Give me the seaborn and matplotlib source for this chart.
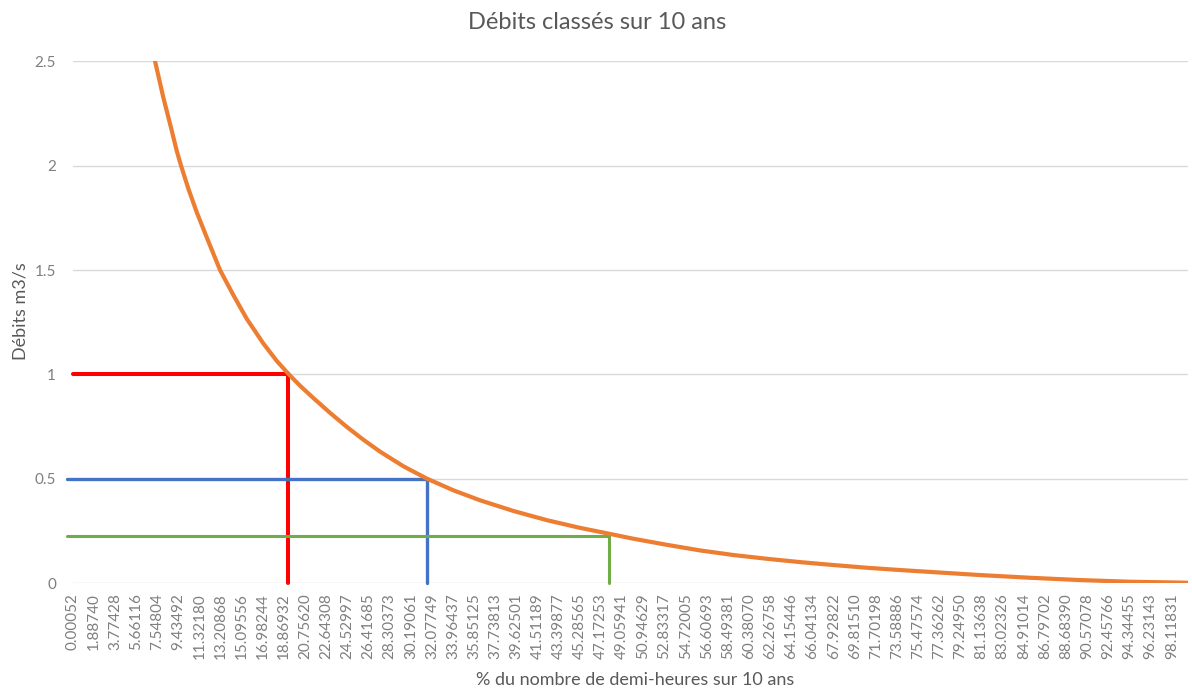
import matplotlib
matplotlib.use("Agg")
import matplotlib.pyplot as plt
import pandas as pd
import seaborn as sns

# courbe des débits classés
pct_temps = [0.0, 2.0, 4.0, 6.0, 7.35, 8.09, 8.69, 9.29, 9.67, 10.32, 11.07,
             11.96, 13.15, 14.34, 15.54, 17.02, 18.21, 19.30, 20.29, 21.48,
             22.97, 24.46, 25.95, 27.44, 29.52, 31.61, 33.98, 36.37, 39.34,
             42.32, 45.29, 47.97, 50.05, 53.03, 56.0, 58.98, 61.96, 64.94,
             67.91, 70.89, 73.87, 76.54, 81.0, 85.47, 89.93, 94.4, 98.86, 99.6]
debits = [6.0, 4.4, 3.4, 2.85, 2.5, 2.326, 2.20, 2.07, 2.0, 1.89, 1.777,
          1.657, 1.5, 1.38, 1.266, 1.148, 1.065, 1.0, 0.946, 0.887,
          0.816, 0.749, 0.687, 0.630, 0.560, 0.501, 0.445, 0.397, 0.346,
          0.302, 0.265, 0.236, 0.213, 0.184, 0.157, 0.135, 0.117, 0.101,
          0.087, 0.074, 0.063, 0.054, 0.039, 0.026, 0.015, 0.007, 0.003, 0.002]

# seuils de lecture
seuil_debits = [1.0, 0.5, 0.225]
seuil_pct = [19.22, 31.61, 47.9]
seuil_debut = [0.0, -0.5, -0.5]
seuil_couleurs = ["#FF0000", "#4472C4", "#70AD47"]
seuil_largeurs = [2.9, 2.4, 2.2]

x_labels = ["0.00052", "1.88740", "3.77428", "5.66116", "7.54804", "9.43492",
            "11.32180", "13.20868", "15.09556", "16.98244", "18.86932",
            "20.75620", "22.64308", "24.52997", "26.41685", "28.30373",
            "30.19061", "32.07749", "33.96437", "35.85125", "37.73813",
            "39.62501", "41.51189", "43.39877", "45.28565", "47.17253",
            "49.05941", "50.94629", "52.83317", "54.72005", "56.60693",
            "58.49381", "60.38070", "62.26758", "64.15446", "66.04134",
            "67.92822", "69.81510", "71.70198", "73.58886", "75.47574",
            "77.36262", "79.24950", "81.13638", "83.02326", "84.91014",
            "86.79702", "88.68390", "90.57078", "92.45766", "94.34455",
            "96.23143", "98.11831"]
y_ticks = [0, 0.5, 1, 1.5, 2, 2.5]
y_labels = ["0", "0.5", "1", "1.5", "2", "2.5"]

TEXTE = "#595959"
TICKS = "#7F7F7F"

sns.set_theme(style="white")
plt.rcParams["font.family"] = ["Lato", "DejaVu Sans"]

df = pd.DataFrame({"pct": pct_temps, "debit": debits})

fig = plt.figure(figsize=(11.92, 6.91), dpi=100)
ax = fig.add_axes([0.061, 0.156, 0.936, 0.7554])

for deb, pct, x0, col, lw in zip(seuil_debits, seuil_pct, seuil_debut,
                                 seuil_couleurs, seuil_largeurs):
    ax.plot([x0, pct, pct], [deb, deb, 0], color=col, lw=lw,
            solid_joinstyle="miter", clip_on=False, zorder=3)

sns.lineplot(data=df, x="pct", y="debit", color="#ED7D31", linewidth=3.0,
             ax=ax, zorder=4)

ax.set_xlim(0, 99.6)
ax.set_ylim(0, 2.5)
ax.set_yticks(y_ticks)
ax.set_yticklabels(y_labels)
ax.set_xticks([float(v) for v in x_labels])
ax.set_xticklabels(x_labels, rotation=90)
ax.tick_params(axis="both", length=0, labelsize=11, labelcolor=TICKS)
ax.tick_params(axis="y", pad=12)
ax.tick_params(axis="x", pad=7)

ax.yaxis.grid(True, color="#D9D9D9", linewidth=1.0)
ax.xaxis.grid(False)
ax.set_axisbelow(True)
for s in ax.spines.values():
    s.set_visible(False)

ax.set_xlabel("% du nombre de demi-heures sur 10 ans", fontsize=13,
              color=TEXTE)
ax.xaxis.set_label_coords(0.504, -0.170)
ax.set_ylabel("Débits m3/s", fontsize=13, color=TEXTE)
ax.yaxis.set_label_coords(-0.040, 0.521)
fig.text(0.501, 0.968, "Débits classés sur 10 ans", ha="center", va="center",
         fontsize=17, color=TEXTE)

fig.savefig("out.png", dpi=100)
